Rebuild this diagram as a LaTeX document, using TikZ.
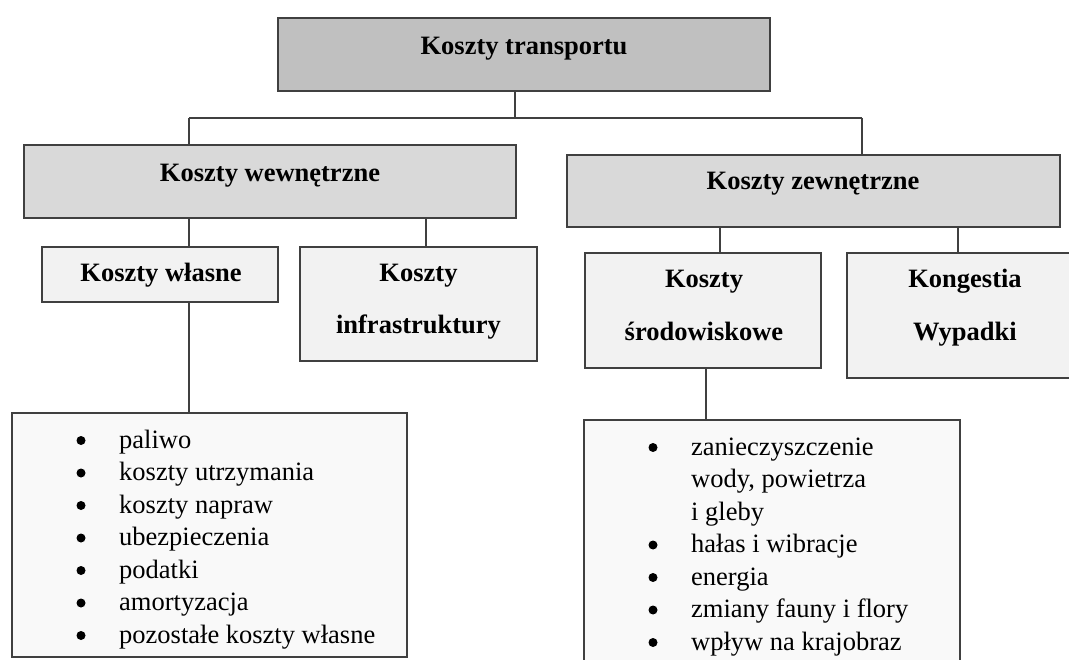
\documentclass[tikz,border=0pt]{standalone}
\usepackage{fontspec}
\setmainfont{Liberation Serif}
\definecolor{lc}{HTML}{404040}
\definecolor{f1}{HTML}{C0C0C0}
\definecolor{f2}{HTML}{D9D9D9}
\definecolor{f3}{HTML}{F2F2F2}
\definecolor{f4}{HTML}{F9F9F9}
\begin{document}
\begin{tikzpicture}[x=1pt,y=-1pt,
  box/.style={draw=lc,line width=1.6pt,rectangle,inner sep=0pt},
  head/.style={anchor=base,inner sep=0pt,font=\fontsize{26.5}{32}\selectfont\bfseries},
  itm/.style={anchor=base west,inner sep=0pt,font=\fontsize{26.5}{32}\selectfont},
  bul/.style={circle,fill=black,draw=none,minimum size=9pt,inner sep=0pt},
  conn/.style={draw=lc,line width=1.6pt}]
\useasboundingbox (0,0) rectangle (1069,660);
\clip (0,0) rectangle (1069,660);
\fill[white] (0,0) rectangle (1069,660);
% boxes
\node[box,fill=f1,minimum width=492pt,minimum height=73pt] (top) at (524,54.5) {};
\node[box,fill=f2,minimum width=492pt,minimum height=73pt] (wew) at (270,181.5) {};
\node[box,fill=f2,minimum width=493pt,minimum height=72pt] (zew) at (813.5,191) {};
\node[box,fill=f3,minimum width=236pt,minimum height=55pt] (wla) at (160,274.5) {};
\node[box,fill=f3,minimum width=237pt,minimum height=114pt] (inf) at (418.5,304) {};
\node[box,fill=f3,minimum width=236pt,minimum height=115pt] (sro) at (703,310.5) {};
\node[box,fill=f3,minimum width=228pt,minimum height=125pt] (kon) at (961,315.5) {};
\node[box,fill=f4,minimum width=395pt,minimum height=244pt] (lsl) at (209.5,535) {};
\node[box,fill=f4,minimum width=376pt,minimum height=280pt] (lsr) at (772,560) {};
% headings
\node[head] (ttop) at (524,54.5) {Koszty transportu};
\node[head] (twew) at (270,182) {Koszty wewnętrzne};
\node[head] (tzew) at (813,190) {Koszty zewnętrzne};
\node[head] (twla) at (161,282) {Koszty własne};
\node[head] (tin1) at (418.5,282) {Koszty};
\node[head] (tin2) at (418.5,334) {infrastruktury};
\node[head] (tsr1) at (704,288) {Koszty};
\node[head] (tsr2) at (704,341) {środowiskowe};
\node[head] (tko1) at (965,288) {Kongestia};
\node[head] (tko2) at (965,341) {Wypadki};
% left list
\foreach \t [count=\i] in {paliwo,koszty utrzymania,koszty napraw,ubezpieczenia,podatki,amortyzacja,pozostałe koszty własne}{
  \pgfmathsetmacro{\yy}{448+32.5*(\i-1)}
  \node[bul] (bl\i) at (81,\yy-7.5) {};
  \node[itm] (il\i) at (119,\yy) {\t};
}
% right list
\node[bul] (br1) at (653,455-7.5) {};
\node[itm] (ir1) at (691,455) {zanieczyszczenie};
\node[itm] (ir2) at (691,487.5) {wody, powietrza};
\node[itm] (ir3) at (691,520) {i gleby};
\node[bul] (br4) at (653,552.5-7.5) {};
\node[itm] (ir4) at (691,552.5) {hałas i wibracje};
\node[bul] (br5) at (653,585-7.5) {};
\node[itm] (ir5) at (691,585) {energia};
\node[bul] (br6) at (653,617.5-7.5) {};
\node[itm] (ir6) at (691,617.5) {zmiany fauny i flory};
\node[bul] (br7) at (653,650-7.5) {};
\node[itm] (ir7) at (691,650) {wpływ na krajobraz};
% connectors
\coordinate (j) at (515,118);
\coordinate (wl) at (189,118);
\coordinate (zl) at (862,118);
\coordinate (x1) at (189,0);
\coordinate (x2) at (426,0);
\coordinate (x3) at (720,0);
\coordinate (x4) at (958,0);
\coordinate (x5) at (706,0);
\draw[conn] (j |- top.south) -- (j);
\draw[conn] (wl) -- (zl);
\draw[conn] (wl) -- (wl |- wew.north);
\draw[conn] (zl) -- (zl |- zew.north);
\draw[conn] (x1 |- wew.south) -- (x1 |- wla.north);
\draw[conn] (x2 |- wew.south) -- (x2 |- inf.north);
\draw[conn] (x3 |- zew.south) -- (x3 |- sro.north);
\draw[conn] (x4 |- zew.south) -- (x4 |- kon.north);
\draw[conn] (x1 |- wla.south) -- (x1 |- lsl.north);
\draw[conn] (x5 |- sro.south) -- (x5 |- lsr.north);
\end{tikzpicture}
\end{document}
